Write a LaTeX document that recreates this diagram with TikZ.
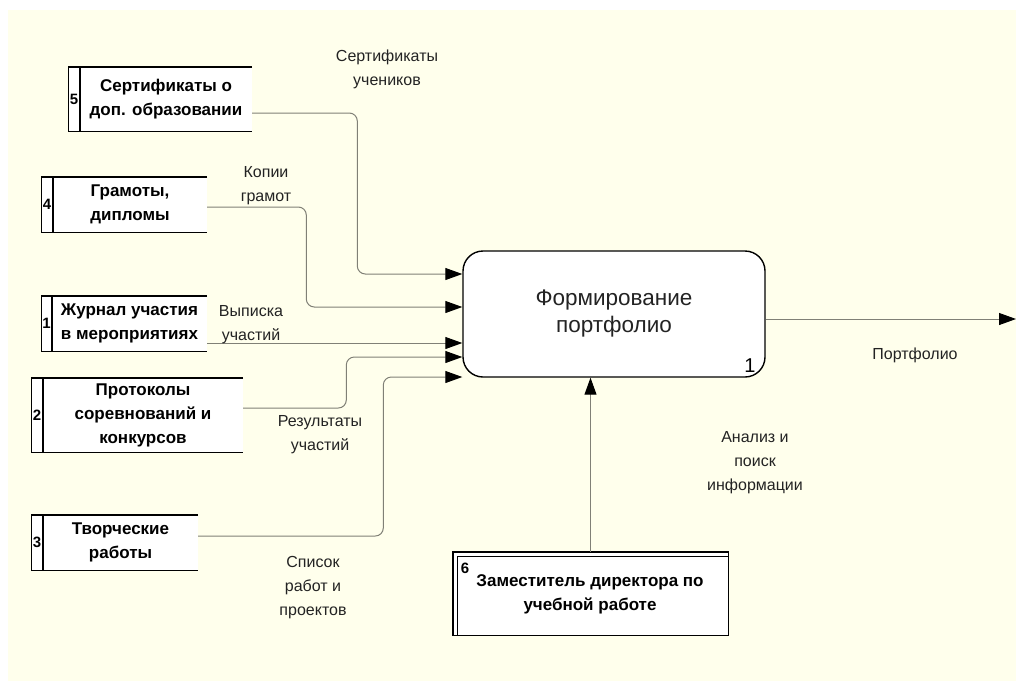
\documentclass[tikz,border=0pt]{standalone}
\usepackage{fontspec}
\setmainfont{Liberation Sans}
\usetikzlibrary{arrows.meta,calc}
\definecolor{paper}{RGB}{255,255,236}
\definecolor{wire}{RGB}{128,128,118}
\definecolor{labtext}{RGB}{35,35,35}
\begin{document}
\begin{tikzpicture}[x=1pt,y=-1pt,
  boxline/.style={draw=black,line width=1.4pt},
  extbox/.style={fill=white,inner sep=0pt,align=center,
    font=\bfseries\fontsize{17}{24}\selectfont},
  numcell/.style={fill=white,inner sep=0pt,minimum width=11pt,
    font=\bfseries\fontsize{15}{16}\selectfont},
  flowlabel/.style={align=center,text=labtext,font=\fontsize{16}{24}\selectfont},
  flow/.style={draw=wire,line width=1pt,rounded corners=8pt,
    -{Triangle[length=17pt,width=12pt,color=black]}},
]
% page and canvas
\useasboundingbox (0,0) rectangle (1016,681);
\fill[white] (0,0) rectangle (1016,681);
\fill[paper] (8,10) rectangle (1016,681);

% central activity
\node[draw=black,line width=1.4pt,fill=white,rounded corners=20pt,
  minimum width=302pt,minimum height=126pt,inner sep=0pt,align=center,
  font=\fontsize{22.5}{28}\selectfont,text=labtext] (main) at (614,314)
  {\raisebox{-3pt}{\shortstack{Формирование\\[3pt]портфолио}}};
\node[font=\fontsize{20}{20}\selectfont] (mainnum) at (750,366) {1};

% external sources
\node[extbox,minimum width=172pt,minimum height=64pt] (b5) at (166,99)
  {Сертификаты о\\доп. образовании};
\node[numcell,anchor=east,minimum height=64pt] (n5) at (b5.west) {5};

\node[extbox,minimum width=154pt,minimum height=55pt] (b4) at (130,204.5)
  {Грамоты,\\дипломы};
\node[numcell,anchor=east,minimum height=55pt] (n4) at (b4.west) {4};

\node[extbox,minimum width=155pt,minimum height=55pt] (b1) at (129.5,323.5)
  {Журнал участия\\в мероприятиях};
\node[numcell,anchor=east,minimum height=55pt,minimum width=10pt] (n1) at (b1.west) {1};

\node[extbox,minimum width=200pt,minimum height=74pt] (b2) at (143,415)
  {Протоколы\\соревнований и\\конкурсов};
\node[numcell,anchor=east,minimum height=74pt] (n2) at (b2.west) {2};

\node[extbox,minimum width=155pt,minimum height=55pt] (b3) at (120.5,542.5)
  {Творческие\\работы};
\node[numcell,anchor=east,minimum height=55pt] (n3) at (b3.west) {3};

\foreach \b/\n in {b5/n5,b4/n4,b1/n1,b2/n2,b3/n3}{
  \draw[boxline] (\b.north east) -- (\n.north west) -- (\n.south west) -- (\b.south east);
  \draw[boxline] (\n.north east) -- (\n.south east);
}

% mechanism
\node[fill=white,minimum width=275pt,minimum height=83pt,inner sep=0pt] (b6) at (590.5,593.5) {};
\draw[boxline] (b6.north west) rectangle (b6.south east);
\draw[draw=black,line width=1pt] ([xshift=5pt]b6.south west) -- ([xshift=5pt,yshift=-5pt]b6.north west)
  -- ([yshift=-5pt]b6.north east);
\node[extbox,fill=none] (b6text) at (590,594) {Заместитель директора по\\учебной работе};
\node[font=\bfseries\fontsize{15}{16}\selectfont] (n6) at (465,568) {6};

% arrow ends on the activity
\coordinate (t5) at ([yshift=40pt]main.west);
\coordinate (t4) at ([yshift=7pt]main.west);
\coordinate (t1) at ([yshift=-29pt]main.west);
\coordinate (t2) at ([yshift=-43pt]main.west);
\coordinate (t3) at ([yshift=-63pt]main.west);
\coordinate (outR) at (1016,319);

% inputs
\draw[flow] ([yshift=-14pt]b5.east) -| ([xshift=-105pt]t5) -- (t5);
\draw[flow] ([yshift=-2.5pt]b4.east) -| ([xshift=-156pt]t4) -- (t4);
\draw[flow] ([yshift=-19.5pt]b1.east) -- (t1);
\draw[flow] ([yshift=7pt]b2.east) -| ([xshift=-116pt]t2) -- (t2);
\draw[flow] ([yshift=6.5pt]b3.east) -| ([xshift=-79pt]t3) -- (t3);
% output and mechanism
\draw[flow] ([yshift=-5pt]main.east) -- (outR);
\draw[flow] (b6.north) -- (b6.north |- main.south);

% arrow labels
\node[flowlabel] (l5) at (387,69) {Сертификаты\\учеников};
\node[flowlabel] (l4) at (266,186) {Копии\\грамот};
\node[flowlabel] (l1) at (251,325) {Выписка\\участий};
\node[flowlabel] (l2) at (320,435) {Результаты\\участий};
\node[flowlabel] (l3) at (313,588) {Список\\работ и\\проектов};
\node[flowlabel] (l6) at (755,463) {Анализ и\\поиск\\информации};
\node[flowlabel] (lout) at (915,355) {Портфолио};
\end{tikzpicture}
\end{document}
